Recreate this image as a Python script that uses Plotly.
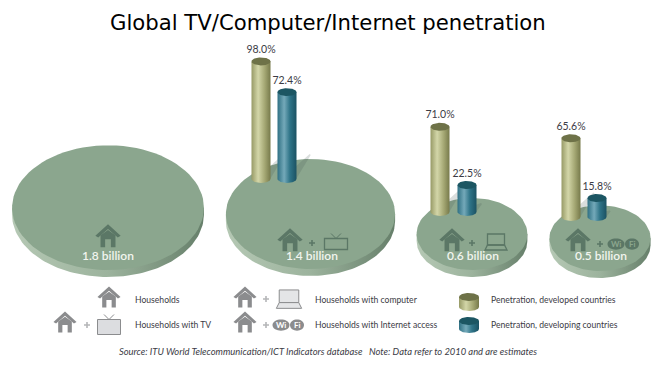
import numpy as np
import plotly.graph_objects as go

# ---- data ----
title = "Global TV/Computer/Internet penetration"
households_bn = [1.8, 1.4, 0.6, 0.5]
developed_pct = [None, 98.0, 71.0, 65.6]
developing_pct = [None, 72.4, 22.5, 15.8]
legend_labels = ["Households", "Households with TV", "Households with computer",
                 "Households with Internet access", "Penetration, developed countries",
                 "Penetration, developing countries"]
source = "Source: ITU World Telecommunication/ICT Indicators database   Note: Data refer to 2010 and are estimates"

# ---- layout / style ----
DISC_CX = [108, 310.5, 472, 600]
DISC_BOTTOM = [270, 269, 270, 271]
R_SCALE = 71.5
RY_RATIO = 0.65
PCT_PX = 1.2
COL_OLIVE_X = [None, 261, 440, 571]
COL_TEAL_X = [None, 287, 467, 597]
COL_BASE = [None, 179, 212, 217]
HW = 9.5
CAP = 4
OLIVE = [[0, "#979a66"], [0.35, "#d3d6a8"], [0.7, "#a4a773"], [1, "#777a4b"]]
TEAL = [[0, "#2f7083"], [0.35, "#74a9b9"], [0.65, "#2f7488"], [1, "#1b5263"]]
OLIVE_TOP, TEAL_TOP = "#6e7248", "#1c5663"
FACE = "#8ba68e"
EDGE = [[0, "#b5c8b4"], [0.5, "#9cb39d"], [1, "#667f6a"]]
ICON = "#5b7766"
GREY = "#8b8c8e"
TXT = "#3b3b45"
F = "Lato, Open Sans, sans-serif"

fig = go.Figure()


def ell(cx, cy, rx, ry, a=0.0, b=2 * np.pi, n=90):
    t = np.linspace(a, b, n)
    return cx + rx * np.cos(t), cy + ry * np.sin(t)


def poly(x, y, **kw):
    fig.add_trace(go.Scatter(x=list(x), y=list(y), mode="lines", fill="toself",
                             line=dict(width=0), hoverinfo="skip", showlegend=False, **kw))


def cylinder(cx, base, h, scale, top):
    xa, ya = ell(cx, base, HW, CAP, 0, np.pi)
    poly(np.r_[xa, [cx - HW, cx + HW], xa[0]], np.r_[ya, [base - h, base - h], ya[0]],
         fillgradient=dict(type="horizontal", colorscale=scale))
    xt, yt = ell(cx, base - h, HW, CAP)
    poly(xt, yt, fillcolor=top)


def cyl_shadow(cx, base, h):
    L = min(h * 0.3, 24)
    poly([cx + HW - 1, cx + HW + 0.55 * L + 1, cx + HW + 0.55 * L, cx - 2],
         [base + 1, base - L, base - L - 1, base - 3], fillcolor="rgba(70,90,85,0.20)")


for i, b in enumerate(households_bn):
    rx = R_SCALE * np.sqrt(b)
    ry = RY_RATIO * rx
    cx, cy = DISC_CX[i], DISC_BOTTOM[i] - ry
    xa, ya = ell(cx, cy + 7, rx, ry, 0, np.pi)
    poly(np.r_[xa, cx - rx, cx + rx, xa[0]], np.r_[ya, cy, cy, ya[0]],
         fillgradient=dict(type="horizontal", colorscale=EDGE))
    xt, yt = ell(cx, cy, rx, ry)
    poly(xt, yt, fillcolor=FACE)
    if developed_pct[i] is not None:
        h1, h2 = developed_pct[i] * PCT_PX, developing_pct[i] * PCT_PX
        cyl_shadow(COL_OLIVE_X[i], COL_BASE[i], h1)
        cyl_shadow(COL_TEAL_X[i], COL_BASE[i], h2)
        cylinder(COL_OLIVE_X[i], COL_BASE[i], h1, OLIVE, OLIVE_TOP)
        cylinder(COL_TEAL_X[i], COL_BASE[i], h2, TEAL, TEAL_TOP)

# percentage labels
lab_x, lab_y, lab_t = [], [], []
for i in range(1, 4):
    for xs, vals in ((COL_OLIVE_X, developed_pct), (COL_TEAL_X, developing_pct)):
        lab_x.append(xs[i])
        lab_y.append(COL_BASE[i] - vals[i] * PCT_PX - 11)
        lab_t.append(f"{vals[i]:.1f}%")
fig.add_trace(go.Scatter(x=lab_x, y=lab_y, text=lab_t, mode="text", hoverinfo="skip", showlegend=False,
                         textfont=dict(family=F, size=10.5, color=TXT), textposition="middle center"))
# billions labels
fig.add_trace(go.Scatter(x=[108, 312, 473, 601], y=[257] * 4, mode="text", hoverinfo="skip", showlegend=False,
                         text=[f"{b} billion" for b in households_bn],
                         textfont=dict(family=F, size=12, color="#f2f5ef", weight=600)))

# legend cylinders
for cx, top, bot, sc, tc in ((469, 297, 307, OLIVE, OLIVE_TOP), (469, 321, 329, TEAL, TEAL_TOP)):
    xa, ya = ell(cx, bot, 10, 4, 0, np.pi)
    poly(np.r_[xa, [cx - 10, cx + 10], xa[0]], np.r_[ya, [top, top], ya[0]],
         fillgradient=dict(type="horizontal", colorscale=sc))
    xt, yt = ell(cx, top, 10, 4)
    poly(xt, yt, fillcolor=tc)

shapes = []


def path(d, fill=None, line=None, w=0):
    shapes.append(dict(type="path", path=d, xref="x", yref="y", fillcolor=fill or "rgba(0,0,0,0)",
                       line=dict(color=line or "rgba(0,0,0,0)", width=w)))


def house(x, y, s, c):
    path(f"M{x-11*s},{y-1*s} L{x},{y-11*s} L{x+11*s},{y-1*s} L{x+8.5*s},{y+0.5*s} L{x},{y-7*s} "
         f"L{x-8.5*s},{y+0.5*s} Z", fill=c)
    path(f"M{x-6.5*s},{y-1.5*s} L{x},{y-6*s} L{x+6.5*s},{y-1.5*s} L{x+6.5*s},{y+9*s} L{x+2.5*s},{y+9*s} "
         f"L{x+2.5*s},{y+2*s} L{x-2.5*s},{y+2*s} L{x-2.5*s},{y+9*s} L{x-6.5*s},{y+9*s} Z", fill=c)


def plus(x, y, c):
    path(f"M{x-3},{y} L{x+3},{y} M{x},{y-3} L{x},{y+3}", line=c, w=1.6)


def tv(x, y, c, fill=None, w=1.3, up=5, dn=6):
    path(f"M{x-11.5},{y-up} L{x+11.5},{y-up} L{x+11.5},{y+dn} L{x-11.5},{y+dn} Z", fill=fill, line=c, w=w)
    path(f"M{x-5},{y-up-5} L{x},{y-up} L{x+5},{y-up-5}", line=c, w=1)


def laptop(x, y, c, fill=None, w=1.3, s=1.0):
    path(f"M{x-8.5*s},{y-7*s} L{x+8.5*s},{y-7*s} L{x+8.5*s},{y+4*s} L{x-8.5*s},{y+4*s} Z", fill=fill, line=c, w=w)
    path(f"M{x-8.5*s},{y+4*s} L{x+8.5*s},{y+4*s} L{x+11*s},{y+9*s} L{x-11*s},{y+9*s} Z", fill=fill, line=c, w=w)


def wifi(x, y, c, tcol):
    for cx, r in ((x - 7, 8.5), (x + 9, 7)):
        path(f"M{cx-r},{y} C{cx-r},{y-7.5} {cx+r},{y-7.5} {cx+r},{y} C{cx+r},{y+7.5} {cx-r},{y+7.5} {cx-r},{y} Z", fill=c)
    return [dict(x=x - 7, y=y, text="<b>Wi</b>", font=dict(size=8, color=tcol, family=F), showarrow=False),
            dict(x=x + 9, y=y, text="<b>Fi</b>", font=dict(size=8, color=tcol, family=F), showarrow=False)]


ann = []
# icons on discs
house(108, 237, 1.15, ICON)
house(290, 241, 1.15, ICON); plus(312, 243, ICON); tv(336, 243.5, ICON)
house(452, 241, 1.15, ICON); plus(472, 243, ICON); laptop(496, 241, ICON)
house(578, 241, 1.15, ICON); plus(600, 244, ICON); ann += wifi(623, 244, ICON, FACE)
# legend icons
house(109, 298, 1.05, GREY)
house(65, 323, 1.05, GREY); plus(87, 325, "#b5b6b8"); tv(109, 326.5, GREY, "#dcdde0", 1, 7, 8)
house(245, 298, 1.05, GREY); plus(266, 299, "#b5b6b8"); laptop(289, 298, GREY, "#e4e5e7", 1, 1.15)
house(245, 323, 1.05, GREY); plus(266, 325, "#b5b6b8"); ann += wifi(288, 325, GREY, "#ffffff")

# text
for x, y, t in ((133, 300, legend_labels[0]), (133, 325, legend_labels[1]), (313, 300, legend_labels[2]),
                (313, 325, legend_labels[3]), (489, 300, legend_labels[4]), (489, 325, legend_labels[5])):
    ann.append(dict(x=x, y=y, text=t, xanchor="left", showarrow=False, font=dict(family=F, size=8.6, color=TXT)))
ann.append(dict(x=328, y=351, text=f"<i>{source}</i>", showarrow=False, font=dict(family=F, size=9.4, color=TXT)))
ann.append(dict(x=328, y=22.5, text=title, showarrow=False,
                font=dict(family="DejaVu Sans, sans-serif", size=21.2, color="#000000")))

fig.update_layout(width=660, height=369, margin=dict(l=0, r=0, t=0, b=0), paper_bgcolor="white",
                  plot_bgcolor="white", shapes=shapes, annotations=ann, showlegend=False,
                  xaxis=dict(range=[0, 660], visible=False, fixedrange=True),
                  yaxis=dict(range=[369, 0], visible=False, fixedrange=True))
fig.write_html("out.html", config=dict(displayModeBar=False),
               post_script="document.body.style.margin='0';document.body.style.overflow='hidden';")
